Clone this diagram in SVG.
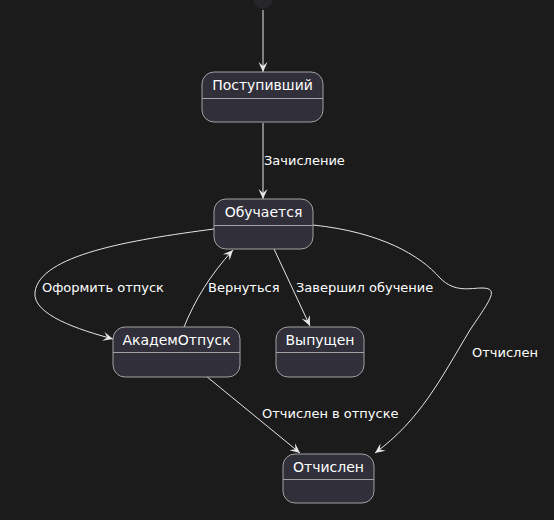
<svg xmlns="http://www.w3.org/2000/svg" width="554" height="520" viewBox="0 0 554 520">
<style>
.node rect{fill:#302f3a;stroke:#a2a2a2;stroke-width:1}
.node line{stroke:#a2a2a2;stroke-width:1}
.t{font-family:"DejaVu Sans",sans-serif;font-size:14px;fill:#ffffff;text-anchor:middle}
.lbl{font-family:"DejaVu Sans",sans-serif;font-size:13px;fill:#ffffff}
.edge{fill:none;stroke:#e6e6e6;stroke-width:1;marker-end:url(#arr)}
</style>
<defs>
<marker id="arr" markerUnits="userSpaceOnUse" markerWidth="14" markerHeight="12" viewBox="-11 -6 12 12" refX="0" refY="0" orient="auto">
<path d="M0,0 L-10,-4.5 L-6,0 L-10,4.5 Z" fill="#e6e6e6"/>
</marker>
</defs>
<rect width="554" height="520" fill="#1b1b1b"/>
<g id="start"><circle cx="263" cy="-1" r="10" fill="#262628"/></g>
<g id="connectors">
<path class="edge" d="M263,10 L263,72"/>
<path class="edge" d="M263,123 L263,199"/>
<text class="lbl" x="264" y="165">Зачисление</text>
<path class="edge" d="M214,229 C130,240 40,255 35,292 C32,315 80,330 113,339"/>
<text class="lbl" x="42" y="292">Оформить отпуск</text>
<path class="edge" d="M184,327 C195,300 210,275 233,250"/>
<text class="lbl" x="208" y="292">Вернуться</text>
<path class="edge" d="M274,249 L310,326"/>
<text class="lbl" x="296" y="292">Завершил обучение</text>
<path class="edge" d="M313,225 C380,232 420,255 440,278 C455,293 470,288 482,288 C500,288 490,300 470,330 C440,380 420,420 375,453"/>
<text class="lbl" x="472" y="357">Отчислен</text>
<path class="edge" d="M206,376 L300,453"/>
<text class="lbl" x="262" y="418">Отчислен в отпуске</text>
</g>
<g id="n1" class="node"><rect x="202" y="72" width="121" height="50" rx="12"/><line x1="202" y1="98.5" x2="323" y2="98.5"/><text class="t" x="262.5" y="90">Поступивший</text></g>
<g id="n2" class="node"><rect x="214" y="199" width="99" height="50" rx="12"/><line x1="214" y1="225.5" x2="313" y2="225.5"/><text class="t" x="263.5" y="217">Обучается</text></g>
<g id="n3" class="node"><rect x="113" y="327" width="127" height="50" rx="12"/><line x1="113" y1="352.5" x2="240" y2="352.5"/><text class="t" x="176.5" y="345">АкадемОтпуск</text></g>
<g id="n4" class="node"><rect x="276" y="327" width="88" height="50" rx="12"/><line x1="276" y1="352.5" x2="364" y2="352.5"/><text class="t" x="320" y="345">Выпущен</text></g>
<g id="n5" class="node"><rect x="283" y="454" width="91" height="49" rx="12"/><line x1="283" y1="479.5" x2="374" y2="479.5"/><text class="t" x="328.5" y="472">Отчислен</text></g>
</svg>
